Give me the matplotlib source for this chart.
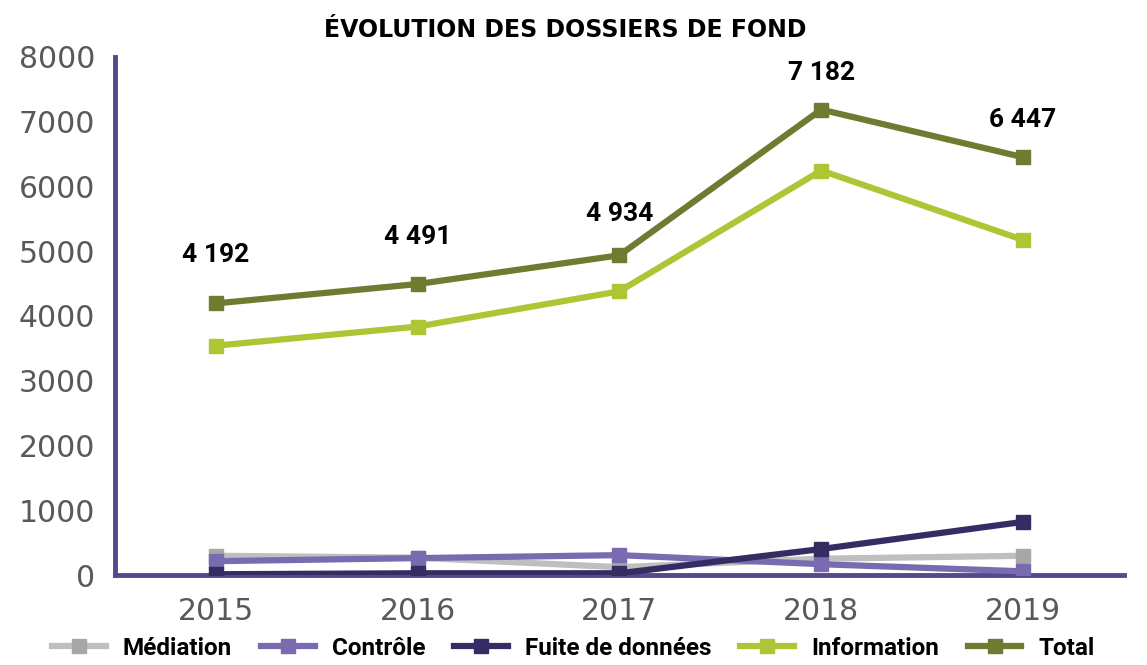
import matplotlib
matplotlib.use("Agg")
import matplotlib.pyplot as plt

years = ["2015", "2016", "2017", "2018", "2019"]
mediation = [300, 270, 124, 255, 300]
controle = [217, 264, 310, 170, 60]
fuite = [15, 30, 30, 404, 823]
information = [3540, 3835, 4379, 6242, 5171]
total = [4192, 4491, 4934, 7182, 6447]
total_labels = ["4 192", "4 491", "4 934", "7 182", "6 447"]
label_offsets = [26, 25, 21, 18, 18]

series = [
    ("Médiation", mediation, "#BFBFBF", "#A7A7A9"),
    ("Contrôle", controle, "#7A6AB0", "#7A6AB0"),
    ("Fuite de données", fuite, "#352C63", "#352C63"),
    ("Information", information, "#B0C535", "#B0C535"),
    ("Total", total, "#6E7C32", "#6E7C32"),
]

fig = plt.figure(figsize=(11.47, 6.65), dpi=100)
ax = fig.add_axes([0.1, 0.135, 0.88, 0.78])

x = list(range(len(years)))
for name, vals, lc, mc in series:
    ax.plot(x, vals, color=lc, lw=4.5, marker="s", ms=10,
            markerfacecolor=mc, markeredgecolor=mc, label=name, zorder=3)

for i, (v, lab) in enumerate(zip(total, total_labels)):
    ax.annotate(lab, (i, v), xytext=(0, label_offsets[i]), textcoords="offset points",
                ha="center", va="bottom", fontsize=19, fontweight="bold",
                family="Roboto", color="black")

ax.set_xlim(-0.5, 4.5)
ax.set_ylim(0, 8000)
ax.set_yticks(range(0, 8001, 1000))
ax.set_xticks(x)
ax.set_xticklabels(years)
ax.tick_params(axis="both", length=0, labelsize=21.5, labelcolor="#595959")
ax.tick_params(axis="x", pad=16)
ax.tick_params(axis="y", pad=14)
for t in ax.get_xticklabels() + ax.get_yticklabels():
    t.set_family("DejaVu Sans")

for s in ["top", "right"]:
    ax.spines[s].set_visible(False)
for s in ["left", "bottom"]:
    ax.spines[s].set_color("#524A8A")
    ax.spines[s].set_linewidth(3.5)
    ax.spines[s].set_zorder(2)

fig.text(0.493, 0.955, "ÉVOLUTION DES DOSSIERS DE FOND", ha="center", va="center",
         fontsize=17, fontweight="bold", family="DejaVu Sans")

leg = fig.legend(loc="lower center", bbox_to_anchor=(0.5, -0.025), ncol=5, frameon=False,
                 handlelength=2.2, columnspacing=1.2, handletextpad=0.7,
                 prop={"family": "Roboto", "weight": "bold", "size": 17.5})

fig.savefig("out.png", dpi=100)
